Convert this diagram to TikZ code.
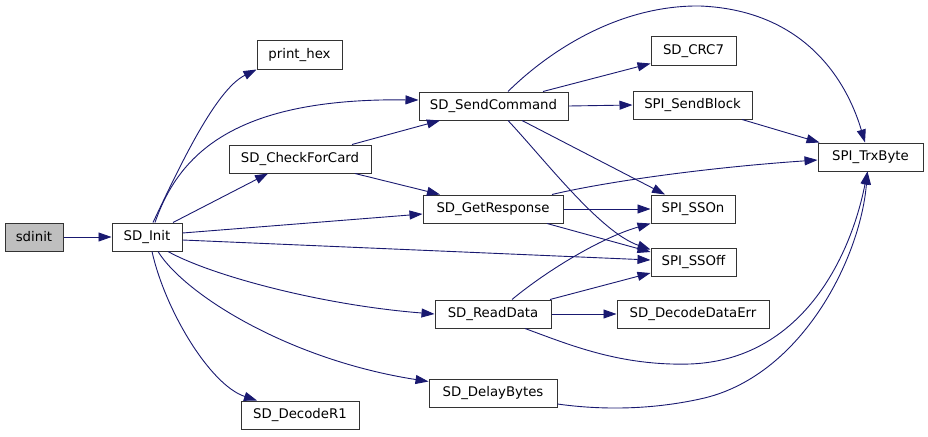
\documentclass[tikz,border=0pt]{standalone}
\usepackage{fontspec}
\setmainfont{DejaVu Sans}
\usetikzlibrary{arrows.meta,calc}
\definecolor{edgec}{HTML}{191970}
\definecolor{fillg}{HTML}{BFBFBF}
\begin{document}
\begin{tikzpicture}[x=1pt,y=-1pt,
  fn/.style={draw=black!80,line width=1pt,rectangle,inner sep=0pt,minimum height=28pt,
    font=\fontsize{13.3}{16}\selectfont,fill=white},
  e/.style={draw=edgec,line width=0.9pt,-{Triangle[length=13pt,width=9pt]}}]
\useasboundingbox (0,0) rectangle (928,436);
% nodes
\node[fn,minimum width=58pt,fill=fillg] (sdinit) at (34,237) {sdinit};
\node[fn,minimum width=70pt] (init) at (147,237) {SD\_Init};
\node[fn,minimum width=85pt] (hex) at (299.5,55) {print\_hex};
\node[fn,minimum width=142pt] (check) at (300,159) {SD\_CheckForCard};
\node[fn,minimum width=149pt] (cmd) at (493.5,106) {SD\_SendCommand};
\node[fn,minimum width=140pt] (resp) at (493,209) {SD\_GetResponse};
\node[fn,minimum width=116pt] (read) at (493,314) {SD\_ReadData};
\node[fn,minimum width=128pt] (delay) at (493,393) {SD\_DelayBytes};
\node[fn,minimum width=118pt] (r1) at (300,415) {SD\_DecodeR1};
\node[fn,minimum width=85pt] (crc) at (693.5,51) {SD\_CRC7};
\node[fn,minimum width=119pt] (blk) at (692.5,105) {SPI\_SendBlock};
\node[fn,minimum width=105pt] (trx) at (870.5,157) {SPI\_TrxByte};
\node[fn,minimum width=84pt] (sson) at (693,209) {SPI\_SSOn};
\node[fn,minimum width=85pt] (ssoff) at (693.5,262) {SPI\_SSOff};
\node[fn,minimum width=152pt] (derr) at (693,314) {SD\_DecodeDataErr};
% edges
\draw[e] (sdinit) -- (init);
\draw[e] ([xshift=6pt]init.north) .. controls (178,170) and (215,90) .. (hex.south west);
\draw[e] ([xshift=8pt]init.north) .. controls (180,150) and (240,98) .. ([yshift=6pt]cmd.west);
\draw[e] ([xshift=26pt]init.north) -- ([xshift=-32pt]check.south);
\draw[e] ([yshift=4pt]init.east) -- ([yshift=-5pt]resp.west);
\draw[e] ([yshift=-3pt]init.east) -- ([yshift=2pt]ssoff.west);
\draw[e] ([xshift=21pt]init.south) .. controls (210,275) and (320,305) .. (read.west);
\draw[e] ([xshift=11pt]init.south) .. controls (185,295) and (290,360) .. ([yshift=-3pt]delay.north west);
\draw[e] ([xshift=5pt]init.south) .. controls (165,310) and (210,385) .. ([xshift=-43pt]r1.north);
\draw[e] ([xshift=52pt]check.north) -- ([xshift=-53.5pt]cmd.south);
\draw[e] ([xshift=55pt]check.south) -- ([xshift=-53pt]resp.north);
\draw[e] ([xshift=49.5pt]cmd.north) -- ([yshift=2pt]crc.south west);
\draw[e] (cmd.east) -- (blk.west);
\draw[e] ([xshift=14.5pt]cmd.north) .. controls (550,50) and (620,5) .. (700,6)
   .. controls (800,10) and (845,75) .. ([xshift=-5.5pt]trx.north);
\draw[e] ([xshift=28.5pt]cmd.south) -- ([xshift=-28pt]sson.north);
\draw[e] ([xshift=14.5pt]cmd.south) .. controls (545,160) and (600,232) .. ([yshift=-2pt]ssoff.north west);
\draw[e] ([xshift=49.5pt]blk.south) -- ([xshift=2pt]trx.north west);
\draw[e] ([xshift=59pt]resp.north) .. controls (600,183) and (700,168) .. ([yshift=-3pt]trx.west);
\draw[e] (resp.east) -- (sson.west);
\draw[e] ([xshift=54pt]resp.south) -- ([yshift=10pt]ssoff.west);
\draw[e] ([xshift=19pt]read.north) .. controls (545,272) and (600,238) .. (sson.south west);
\draw[e] ([xshift=57pt]read.north) -- ([yshift=-11pt]ssoff.west);
\draw[e] (read.east) -- (derr.west);
\draw[e] ([xshift=32pt]read.south) .. controls (570,345) and (620,366) .. (690,364)
   .. controls (800,360) and (850,260) .. ([xshift=-3pt]trx.south);
\draw[e] ([yshift=-11pt]delay.east) .. controls (600,410) and (650,410) .. (700,399)
   .. controls (800,378) and (860,260) .. ([xshift=-3pt]trx.south);
\end{tikzpicture}
\end{document}
